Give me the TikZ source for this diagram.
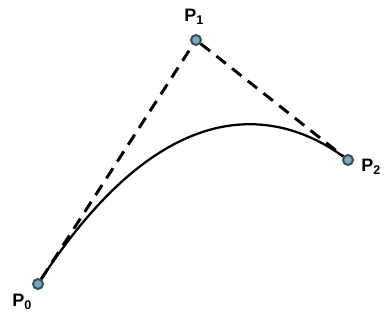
\documentclass[tikz,border=0pt]{standalone}
\usepackage{fontspec}
\setmainfont{Liberation Sans}
\usepackage{tikz}
\usetikzlibrary{positioning}
\definecolor{ptfill}{HTML}{7FA4B8}
\definecolor{ptedge}{HTML}{2C4A5A}

\begin{document}
\begin{tikzpicture}[x=0.75pt,y=-0.75pt,
  ctrlpt/.style={circle,draw=ptedge,fill=ptfill,line width=1.4pt,
                 minimum size=7.5pt,inner sep=0pt},
  ptlabel/.style={font=\fontsize{13.5}{15}\selectfont\bfseries,inner sep=0pt},
  hull/.style={line width=2.2pt,dash pattern=on 9pt off 6pt},
  curve/.style={line width=1.7pt},
]
  \useasboundingbox (0,0) rectangle (391,327);

  \node[ctrlpt] (p0) at (38,284)  {};
  \node[ctrlpt] (p1) at (196,40)  {};
  \node[ctrlpt] (p2) at (348,160) {};

  \node[ptlabel,anchor=west] (lp0) at (12,302) {P\textsubscript{0}};
  \node[ptlabel,anchor=west] (lp1) at (184,17) {P\textsubscript{1}};
  \node[ptlabel,anchor=west] (lp2) at (361,167) {P\textsubscript{2}};

  % control polygon
  \draw[hull] (p0) -- (p1) -- (p2);

  % the curve itself
  \draw[curve] (p0) .. controls (175,75) and (290,118) .. (p2);
\end{tikzpicture}
\end{document}
